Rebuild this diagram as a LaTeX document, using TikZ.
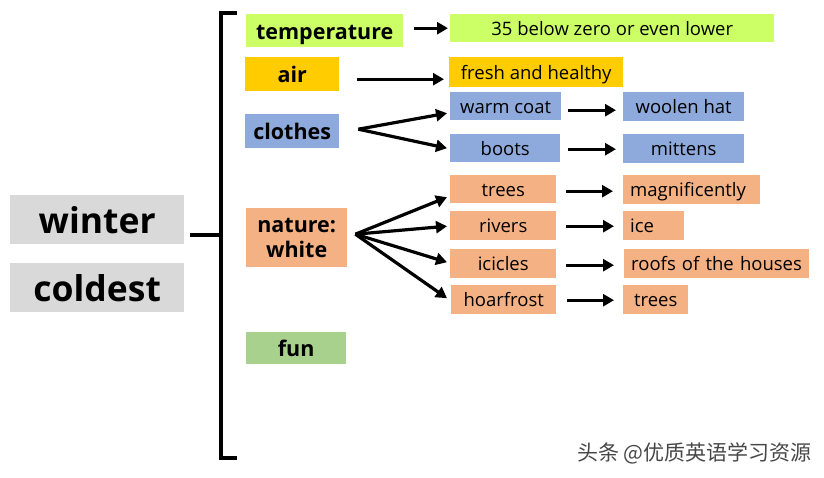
\documentclass[tikz,border=0pt]{standalone}
\usepackage{fontspec}
\setmainfont{Open Sans}
\newfontfamily\cjk{Noto Sans CJK SC}
\usetikzlibrary{arrows.meta}
\definecolor{cgray}{HTML}{D9D9D9}
\definecolor{clime}{HTML}{CCFF66}
\definecolor{cgold}{HTML}{FFCC00}
\definecolor{cblue}{HTML}{8EA9DB}
\definecolor{corange}{HTML}{F4B183}
\definecolor{cgreen}{HTML}{A9D18E}
\begin{document}
\begin{tikzpicture}[x=1pt,y=-1pt,
  box/.style={rectangle, inner sep=0pt, anchor=north west, text=black},
  big/.style={text height=30pt, text depth=2.4pt, font=\bfseries\fontsize{35.5}{38}\selectfont},
  bold/.style={text height=18.5pt, text depth=1.5pt, font=\bfseries\fontsize{21.5}{25}\selectfont},
  reg/.style={text height=17pt, text depth=3pt, font=\fontsize{18.5}{21}\selectfont},
  lft/.style={align=left, inner xsep=7pt},
  arr/.style={line width=3.2pt, -{Triangle[length=11pt,width=12pt]}},
  bar/.style={line width=3.5pt}]
\useasboundingbox (0,0) rectangle (824,477);

% left column
\node[box, fill=cgray, big, minimum width=174pt, minimum height=49pt] (winter) at (10,195) {winter};
\node[box, fill=cgray, big, minimum width=174pt, minimum height=49pt] (coldest) at (10,263) {coldest};

% bracket
\coordinate (btop) at (221,13);
\coordinate (bbot) at (221,458);
\coordinate (bmid) at (221,235);
\draw[bar] ([xshift=16pt]btop) -- (btop) -- (bbot) -- ([xshift=16pt]bbot);
\draw[bar] (bmid) -- ++(-31,0);

% categories
\node[box, fill=clime, bold, minimum width=157pt, minimum height=33pt] (temp) at (246,14) {temperature};
\node[box, fill=cgold, bold, minimum width=94pt, minimum height=34pt] (air) at (245,57) {air};
\node[box, fill=cblue, bold, minimum width=94pt, minimum height=34pt] (clothes) at (245,114) {clothes};
\node[box, fill=corange, font=\bfseries\fontsize{21.5}{25}\selectfont, minimum width=101pt, minimum height=59pt, align=center] (nature) at (246,208) {nature:\\white};
\node[box, fill=cgreen, bold, minimum width=100pt, minimum height=32pt] (fun) at (246,332) {fun};

% second column
\node[box, fill=clime, reg, minimum width=324pt, minimum height=28pt] (t35) at (450,14) {35 below zero or even lower};
\node[box, fill=cgold, reg, minimum width=174pt, minimum height=30pt] (fresh) at (449,57) {fresh and healthy};
\node[box, fill=cblue, reg, minimum width=111pt, minimum height=28pt] (warm) at (450,92) {warm coat};
\node[box, fill=cblue, reg, minimum width=110pt, minimum height=28pt] (boots) at (450,134) {boots};
\node[box, fill=corange, reg, minimum width=106pt, minimum height=28pt] (trees) at (450,175) {trees};
\node[box, fill=corange, reg, minimum width=106pt, minimum height=29pt] (rivers) at (450,211) {rivers};
\node[box, fill=corange, reg, minimum width=106pt, minimum height=29pt] (icicles) at (450,249) {icicles};
\node[box, fill=corange, reg, minimum width=105pt, minimum height=29pt] (hoar) at (451,285) {hoarfrost};

% third column
\node[box, fill=cblue, reg, minimum width=121pt, minimum height=29pt] (woolen) at (623,92) {woolen hat};
\node[box, fill=cblue, reg, minimum width=121pt, minimum height=29pt] (mittens) at (623,134) {mittens};
\node[box, fill=corange, reg, lft, text width=123pt, minimum height=29pt] (mag) at (623,175) {magnificently};
\node[box, fill=corange, reg, lft, text width=47pt, minimum height=29pt] (ice) at (623,211) {ice};
\node[box, fill=corange, reg, lft, text width=171pt, minimum height=29pt] (roofs) at (624,249) {roofs of the houses};
\node[box, fill=corange, reg, minimum width=65pt, minimum height=29pt] (trees2) at (623,285) {trees};

% arrows
\draw[arr] ([xshift=-36pt]t35.west) -- ([xshift=-2pt]t35.west);
\draw[arr] ([xshift=18pt,yshift=-5pt]air.east) -- ([xshift=-5pt,yshift=-7pt]fresh.west);
\draw[arr] ([xshift=19pt,yshift=2pt]clothes.east) -- ([xshift=-3pt,yshift=-7pt]warm.west);
\draw[arr] ([xshift=19pt,yshift=2pt]clothes.east) -- ([xshift=-3pt]boots.west);
\draw[arr] ([xshift=7pt,yshift=-4pt]warm.east) -- ([xshift=-7pt,yshift=-3.5pt]woolen.west);
\draw[arr] ([xshift=8pt,yshift=-1pt]boots.east) -- ([xshift=-7pt,yshift=-0.5pt]mittens.west);
\draw[arr] ([xshift=8pt,yshift=3.5pt]nature.east) -- ([xshift=-3pt,yshift=-8pt]trees.west);
\draw[arr] ([xshift=8pt,yshift=3.5pt]nature.east) -- ([xshift=-3pt,yshift=-0.5pt]rivers.west);
\draw[arr] ([xshift=8pt,yshift=3.5pt]nature.east) -- ([xshift=-3pt,yshift=1.5pt]icicles.west);
\draw[arr] ([xshift=8pt,yshift=3.5pt]nature.east) -- ([xshift=-4pt,yshift=1.5pt]hoar.west);
\draw[arr] ([xshift=10pt,yshift=-2pt]trees.east) -- ([xshift=-10pt,yshift=-1.5pt]mag.west);
\draw[arr] ([xshift=10pt,yshift=-0.5pt]rivers.east) -- ([xshift=-9pt,yshift=-0.5pt]ice.west);
\draw[arr] ([xshift=10pt,yshift=-1.5pt]icicles.east) -- ([xshift=-10pt,yshift=-1.5pt]roofs.west);
\draw[arr] ([xshift=11pt,yshift=-0.5pt]hoar.east) -- ([xshift=-9pt,yshift=-0.5pt]trees2.west);

% watermark
\node[anchor=west, inner sep=0pt, font=\cjk\fontsize{21}{22}\selectfont, text=black!72] (wm) at (577,453) {头条 @优质英语学习资源};
\end{tikzpicture}
\end{document}
